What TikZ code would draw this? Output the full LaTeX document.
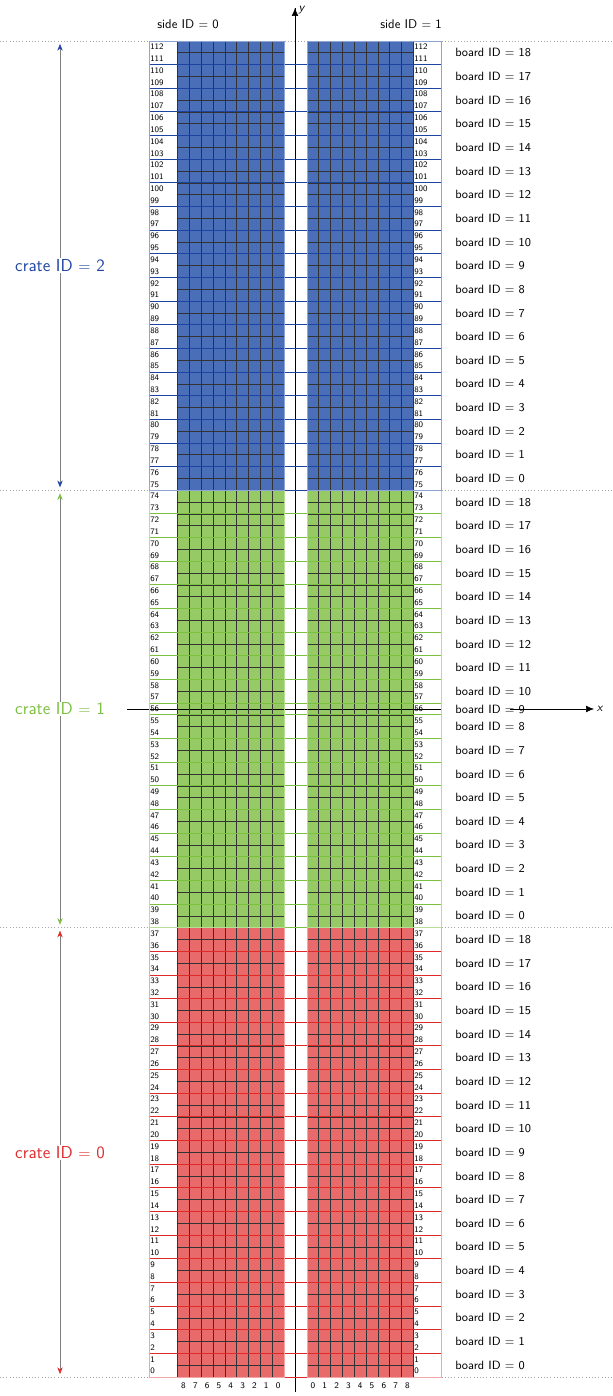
\documentclass[tikz,border=0pt]{standalone}
\usetikzlibrary{arrows.meta}
\renewcommand{\familydefault}{\sfdefault}
\definecolor{cAf}{HTML}{E86A6A}\definecolor{cAl}{HTML}{E02A2A}\definecolor{cAb}{HTML}{F2A6A6}
\definecolor{cBf}{HTML}{96CA64}\definecolor{cBl}{HTML}{7CC040}\definecolor{cBb}{HTML}{B6DE96}
\definecolor{cCf}{HTML}{4A6EB8}\definecolor{cCl}{HTML}{1E44A2}\definecolor{cCb}{HTML}{8EA4D4}
\begin{document}
\begin{tikzpicture}[x=0.75pt,y=0.75pt,
  num/.style={anchor=west,inner sep=0pt,font=\fontsize{6.3}{7}\selectfont},
  blab/.style={anchor=west,inner sep=0pt,font=\fontsize{9}{10}\selectfont},
  clab/.style={fill=white,inner sep=1pt,font=\fontsize{13}{14}\selectfont},
  carrow/.style={gray,-{Stealth[length=5pt,width=4pt]}},
  dotl/.style={gray!70,dotted}]
\useasboundingbox (0,0) rectangle (613,1396);
\pgfmathsetmacro{\h}{11.823}
\def\yr#1{19+(#1)*\h}
% dotted crate limits
\foreach \r in {0,38,75,113}{\draw[dotl] (0,{\yr{\r}}) -- (613,{\yr{\r}});}
% crates: first row, last row+1, colour
\foreach \a/\b/\c in {0/38/A,38/75/B,75/113/C}{
  \fill[white] (149,{\yr{\a}}) rectangle (284,{\yr{\b}});
  \fill[white] (307,{\yr{\a}}) rectangle (441,{\yr{\b}});
  \fill[c\c f] ({284-9*\h},{\yr{\a}}) rectangle (284,{\yr{\b}});
  \fill[c\c f] (307,{\yr{\a}}) rectangle ({307+9*\h},{\yr{\b}});
}
% axes
\draw (295,4) -- (295,1388) coordinate (ytip);
\draw[-{Latex[length=6pt,width=5pt]}] (295,1360) -- (ytip);
\node[anchor=south west,inner sep=1pt,font=\itshape\fontsize{9}{10}\selectfont] at (297,1380) {y};
\draw (127,{\yr{56.5}}) -- (441,{\yr{56.5}});
\draw[-{Latex[length=6pt,width=5pt]}] (510,{\yr{56.5}}) -- (594,{\yr{56.5}}) coordinate (xtip);
\node[anchor=west,inner sep=2pt,font=\itshape\fontsize{9}{10}\selectfont] at (xtip) {x};
% grid
\foreach \i in {0,...,9}{
  \draw[black!80,line width=0.5pt] ({284-\i*\h},{\yr{0}}) -- ({284-\i*\h},{\yr{113}});
  \draw[black!80,line width=0.5pt] ({307+\i*\h},{\yr{0}}) -- ({307+\i*\h},{\yr{113}});
}
\foreach \r in {1,...,112}{
  \draw[black!80,line width=0.5pt] ({284-9*\h},{\yr{\r}}) -- (284,{\yr{\r}});
  \draw[black!80,line width=0.5pt] (307,{\yr{\r}}) -- ({307+9*\h},{\yr{\r}});
}
% row numbers
\foreach \r in {0,...,112}{
  \node[num] at (150,{\yr{\r+0.5}}) {\r};
  \node[num] at (414,{\yr{\r+0.5}}) {\r};
}
% board separators and labels
\foreach \k in {0,...,18}{
  \pgfmathsetmacro{\lo}{2*\k}
  \draw[cAl,line width=0.7pt] (149,{\yr{\lo}}) -- (441,{\yr{\lo}});
  \node[blab] at (455,{\yr{\lo+1}}) {board ID $=$ \k};
  \pgfmathsetmacro{\lo}{75+2*\k}
  \draw[cCl,line width=0.7pt] (149,{\yr{\lo}}) -- (441,{\yr{\lo}});
  \node[blab] at (455,{\yr{\lo+1}}) {board ID $=$ \k};
}
\foreach \k in {0,...,8}{
  \pgfmathsetmacro{\lo}{38+2*\k}
  \draw[cBl,line width=0.7pt] (149,{\yr{\lo}}) -- (441,{\yr{\lo}});
  \node[blab] at (455,{\yr{\lo+1}}) {board ID $=$ \k};
}
\draw[cBl,line width=0.7pt] (149,{\yr{56}}) -- (441,{\yr{56}});
\node[blab] at (455,{\yr{56.5}}) {board ID $=$ 9};
\foreach \k in {10,...,18}{
  \pgfmathsetmacro{\lo}{57+2*(\k-10)}
  \draw[cBl,line width=0.7pt] (149,{\yr{\lo}}) -- (441,{\yr{\lo}});
  \node[blab] at (455,{\yr{\lo+1}}) {board ID $=$ \k};
}
% outer boxes
\foreach \a/\b/\c in {0/38/A,38/75/B,75/113/C}{
  \draw[c\c b,line width=0.7pt] (149,{\yr{\a}}) rectangle (284,{\yr{\b}});
  \draw[c\c b,line width=0.7pt] (307,{\yr{\a}}) rectangle (441,{\yr{\b}});
}
% column numbers
\foreach \i in {0,...,8}{
  \node[font=\fontsize{6.5}{7}\selectfont,inner sep=0pt] at ({284-(\i+0.5)*\h},10) {\i};
  \node[font=\fontsize{6.5}{7}\selectfont,inner sep=0pt] at ({307+(\i+0.5)*\h},10) {\i};
}
\node[font=\fontsize{9.5}{11}\selectfont] (s0) at (188,1372) {side ID $=$ 0};
\node[font=\fontsize{9.5}{11}\selectfont] (s1) at (411,1372) {side ID $=$ 1};
% crate arrows
\foreach \a/\b/\m/\c/\n in {0/38/19/A/0,38/75/56.5/B/1,75/113/94/C/2}{
  \coordinate (lo\n) at (60,{\yr{\a}+3});
  \coordinate (hi\n) at (60,{\yr{\b}-3});
  \coordinate (mid\n) at (60,{\yr{\m}});
  \draw[carrow,-{Stealth[length=5pt,width=4pt,color=c\c l]}] (mid\n) -- (lo\n);
  \draw[carrow,-{Stealth[length=5pt,width=4pt,color=c\c l]}] (mid\n) -- (hi\n);
  \node[clab,text=c\c l] (crate\n) at (mid\n) {crate ID $=$ \n};
}
\end{tikzpicture}
\end{document}
